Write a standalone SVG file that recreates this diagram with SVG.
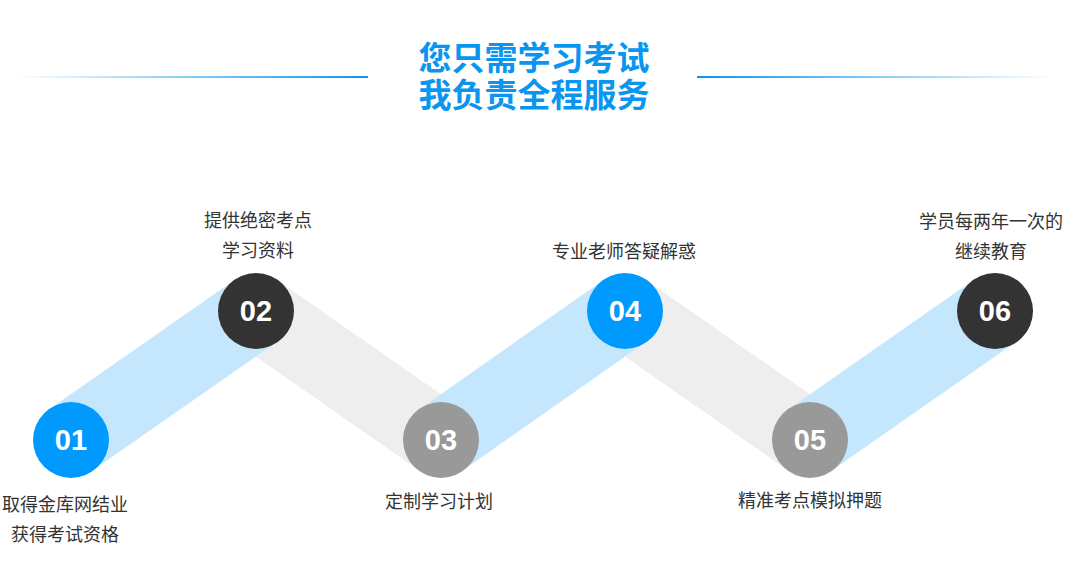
<svg xmlns="http://www.w3.org/2000/svg" width="1066" height="567" viewBox="0 0 1066 567">
<defs>
<linearGradient id="gl" x1="0" y1="0" x2="1" y2="0"><stop offset="0" stop-color="#0a96f0" stop-opacity="0"/><stop offset="1" stop-color="#0a96f0"/></linearGradient>
<linearGradient id="gr" x1="0" y1="0" x2="1" y2="0"><stop offset="0" stop-color="#0a96f0"/><stop offset="1" stop-color="#0a96f0" stop-opacity="0"/></linearGradient>
<style>
.title{font-family:"Noto Sans CJK SC","Liberation Sans",sans-serif;font-weight:bold;font-size:33px;fill:#0a96f0;text-anchor:middle}
.lbl{font-family:"Noto Sans CJK SC","Liberation Sans",sans-serif;font-size:18px;fill:#333;text-anchor:middle}
.num{font-family:"Liberation Sans",Arial,sans-serif;font-weight:bold;font-size:29px;fill:#fff;text-anchor:middle}
.blue{fill:#c5e7fd}
.gray{fill:#eeeeee}
</style>
</defs>
<rect width="1066" height="567" fill="#fff"/>
<g id="header">
<rect x="15" y="76" width="353" height="2" fill="url(#gl)"/>
<rect x="697" y="76" width="358" height="2" fill="url(#gr)"/>
<text class="title"><tspan x="534" y="70">您只需学习考试</tspan><tspan x="534" y="107">我负责全程服务</tspan></text>
</g>
<g id="connectors">
<polygon class="gray" points="277.5,280.3 462.5,409.3 419.5,470.7 234.5,341.7"/>
<polygon class="gray" points="646.5,280.3 831.5,409.3 788.5,470.7 603.5,341.7"/>
<polygon class="blue" points="49.2,409.3 92.2,470.7 277.5,341.4 234.5,280"/>
<polygon class="blue" points="419.5,409.3 462.5,470.7 646.5,341.4 603.5,280"/>
<polygon class="blue" points="788.5,409.3 831.5,470.7 1016.5,341.4 973.5,280"/>
</g>
<g id="n1"><circle cx="71" cy="440" r="38" fill="#009afe"/><text class="num" x="71" y="450">01</text>
<text class="lbl" x="65" y="511">取得金库网结业</text><text class="lbl" x="65" y="541">获得考试资格</text></g>
<g id="n2"><circle cx="256" cy="311" r="38" fill="#333"/><text class="num" x="256" y="321">02</text>
<text class="lbl" x="258" y="227">提供绝密考点</text><text class="lbl" x="258" y="257">学习资料</text></g>
<g id="n3"><circle cx="441" cy="440" r="38" fill="#999"/><text class="num" x="441" y="450">03</text>
<text class="lbl" x="439" y="508">定制学习计划</text></g>
<g id="n4"><circle cx="625" cy="311" r="38" fill="#009afe"/><text class="num" x="625" y="321">04</text>
<text class="lbl" x="624" y="258">专业老师答疑解惑</text></g>
<g id="n5"><circle cx="810" cy="440" r="38" fill="#999"/><text class="num" x="810" y="450">05</text>
<text class="lbl" x="810" y="507">精准考点模拟押题</text></g>
<g id="n6"><circle cx="995" cy="311" r="38" fill="#333"/><text class="num" x="995" y="321">06</text>
<text class="lbl" x="991" y="228">学员每两年一次的</text><text class="lbl" x="991" y="258">继续教育</text></g>
</svg>
